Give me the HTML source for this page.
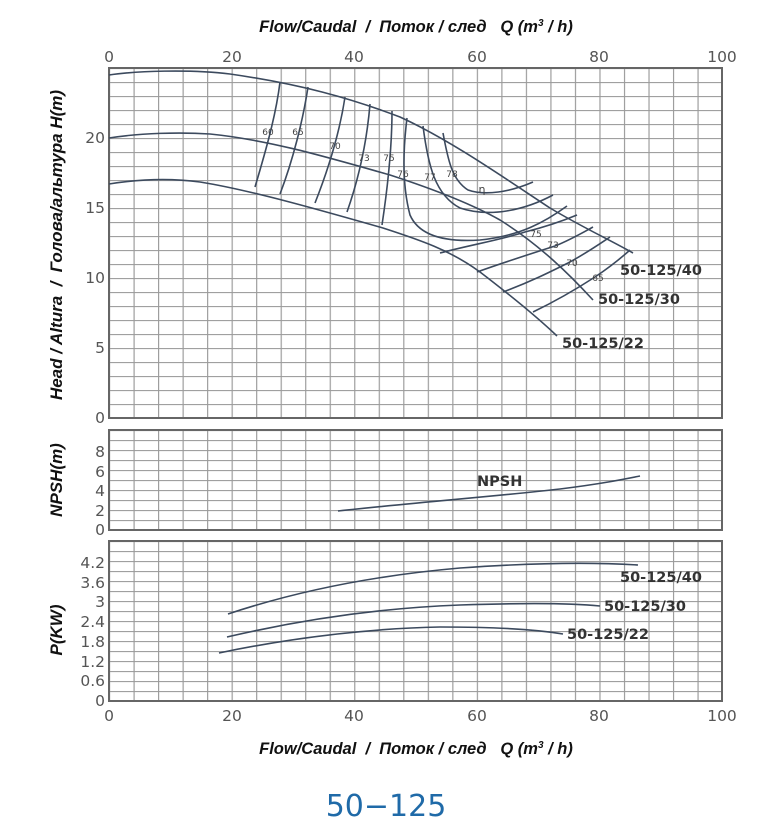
<!DOCTYPE html>
<html><head><meta charset="utf-8"><style>
html,body{margin:0;padding:0;background:#fff}
svg{display:block}
.t{font-family:"Liberation Sans",sans-serif;font-style:italic;font-weight:bold;fill:#111;white-space:pre}
.tk{font-family:"DejaVu Sans","Liberation Sans",sans-serif;font-size:15.5px;fill:#555}
.lb{font-family:"DejaVu Sans","Liberation Sans",sans-serif;font-weight:bold;font-size:14.5px;fill:#333}
.ef{font-family:"DejaVu Sans",sans-serif;font-size:9px;fill:#444}
.c{fill:none;stroke:#3c4a5e;stroke-width:1.6}
</style></head><body>
<svg width="770" height="840" viewBox="0 0 770 840" xmlns="http://www.w3.org/2000/svg">
<defs>
<pattern id="gv" x="109" y="0" width="24.52" height="840" patternUnits="userSpaceOnUse"><line x1="0.5" y1="0" x2="0.5" y2="840" stroke="#9a9a9a" stroke-width="1.3"/></pattern>
<pattern id="gh" x="0" y="68" width="770" height="14" patternUnits="userSpaceOnUse"><line x1="0" y1="0.5" x2="770" y2="0.5" stroke="#a0a0a0" stroke-width="1.2"/></pattern>
<pattern id="gh2" x="0" y="430" width="770" height="10" patternUnits="userSpaceOnUse"><line x1="0" y1="0.5" x2="770" y2="0.5" stroke="#a0a0a0" stroke-width="1.2"/></pattern>
<pattern id="gh3" x="0" y="541" width="770" height="10" patternUnits="userSpaceOnUse"><line x1="0" y1="0.5" x2="770" y2="0.5" stroke="#a0a0a0" stroke-width="1.2"/></pattern>
</defs>
<text class="t" x="416" y="32" font-size="16.5" text-anchor="middle">Flow/Caudal&#160; /&#160; Поток / след&#160;&#160; Q (m<tspan font-size="10" dy="-6">3</tspan><tspan dy="6"> / h)</tspan></text>
<g class="tk" text-anchor="middle">
<text x="109" y="62">0</text><text x="232" y="62">20</text><text x="354" y="62">40</text><text x="477" y="62">60</text><text x="599" y="62">80</text><text x="722" y="62">100</text>
<text x="109" y="721">0</text><text x="232" y="721">20</text><text x="354" y="721">40</text><text x="477" y="721">60</text><text x="599" y="721">80</text><text x="722" y="721">100</text>
</g>
<rect x="109" y="68" width="613" height="350" fill="url(#gh)"/>
<rect x="109" y="68" width="613" height="350" fill="url(#gv)"/>
<rect x="109" y="68" width="613" height="350" fill="none" stroke="#666" stroke-width="2"/>
<rect x="109" y="430" width="613" height="100" fill="url(#gh2)"/>
<rect x="109" y="430" width="613" height="100" fill="url(#gv)"/>
<rect x="109" y="430" width="613" height="100" fill="none" stroke="#666" stroke-width="2"/>
<rect x="109" y="541" width="613" height="160" fill="url(#gh3)"/>
<rect x="109" y="541" width="613" height="160" fill="url(#gv)"/>
<rect x="109" y="541" width="613" height="160" fill="none" stroke="#666" stroke-width="2"/>
<g class="tk" text-anchor="end">
<text x="105" y="143">20</text><text x="105" y="213">15</text><text x="105" y="283">10</text><text x="105" y="353">5</text><text x="105" y="423">0</text>
<text x="105" y="457">8</text><text x="105" y="477">6</text><text x="105" y="496">4</text><text x="105" y="516">2</text><text x="105" y="535">0</text>
<text x="105" y="568">4.2</text><text x="105" y="588">3.6</text><text x="105" y="607">3</text><text x="105" y="627">2.4</text><text x="105" y="647">1.8</text><text x="105" y="667">1.2</text><text x="105" y="686">0.6</text><text x="105" y="706">0</text>
</g>
<text class="t" font-size="17" transform="translate(62,245) rotate(-90)" text-anchor="middle">Head / Altura&#160; /&#160; Голова/альтура H(m)</text>
<text class="t" font-size="17" transform="translate(62,480) rotate(-90)" text-anchor="middle">NPSH(m)</text>
<text class="t" font-size="17" transform="translate(62,630) rotate(-90)" text-anchor="middle">P(KW)</text>
<path class="c" d="M109,75 C135,71 190,69 230,74 C300,84 350,98 400,117 C450,140 500,175 550,208 C580,226 610,240 633,253"/>
<path class="c" d="M109,138 C140,133 180,132 210,134 C270,140 330,158 390,175 C430,188 470,203 500,220 C540,245 570,275 593,300"/>
<path class="c" d="M109,184 C140,179 170,178 200,182 C250,190 320,210 383,228 C420,240 450,250 480,272 C510,295 535,315 557,336"/>
<path class="c" d="M255,187 C266,150 276,115 280,82"/>
<path class="c" d="M280,194 C293,160 303,120 308,87"/>
<path class="c" d="M315,203 C330,165 340,130 345,97"/>
<path class="c" d="M347,212 C360,175 367,140 370,104"/>
<path class="c" d="M382,225 C388,185 392,145 392,111"/>
<path class="c" d="M443,133 C448,160 452,180 468,190 C485,196 510,192 533,182"/>
<path class="c" d="M423,126 C428,165 435,195 460,208 C490,218 525,210 553,195"/>
<path class="c" d="M407,118 C403,150 402,185 410,215 C420,238 450,242 480,240 C520,236 545,222 567,206"/>
<path class="c" d="M440,253 C470,245 500,240 525,232 C545,227 560,222 577,215"/>
<path class="c" d="M477,272 C505,262 530,254 555,246 C570,240 582,233 593,227"/>
<path class="c" d="M503,292 C530,282 550,272 568,263 C585,254 598,245 610,237"/>
<path class="c" d="M533,312 C558,300 578,288 595,277 C610,267 621,258 630,250"/>
<g class="ef" text-anchor="middle">
<text x="268" y="135">60</text><text x="298" y="135">65</text><text x="335" y="149">70</text><text x="364" y="161">73</text><text x="389" y="161">75</text><text x="403" y="177">76</text><text x="430" y="180">77</text><text x="452" y="177">78</text><text x="482" y="193" font-size="11">η</text>
<text x="536" y="237">75</text><text x="553" y="248">73</text><text x="572" y="266">70</text><text x="598" y="281">65</text>
</g>
<text class="lb" x="620" y="275">50-125/40</text>
<text class="lb" x="598" y="304">50-125/30</text>
<text class="lb" x="562" y="348">50-125/22</text>
<path class="c" d="M338,511 C420,502 500,496 560,489 C600,484 620,480 640,476"/>
<text class="lb" x="477" y="486">NPSH</text>
<path class="c" d="M228,614 C300,590 380,575 460,568 C530,563 590,562 638,565"/>
<path class="c" d="M227,637 C300,620 380,608 460,605 C520,603 570,603 600,606"/>
<path class="c" d="M219,653 C300,636 380,628 440,627 C500,627 540,630 563,634"/>
<text class="lb" x="620" y="582">50-125/40</text>
<text class="lb" x="604" y="611">50-125/30</text>
<text class="lb" x="567" y="639">50-125/22</text>
<text class="t" x="416" y="754" font-size="16.5" text-anchor="middle">Flow/Caudal&#160; /&#160; Поток / след&#160;&#160; Q (m<tspan font-size="10" dy="-6">3</tspan><tspan dy="6"> / h)</tspan></text>
<text x="386" y="816" font-family="DejaVu Sans,Liberation Sans,sans-serif" font-size="30" fill="#1f6aa8" text-anchor="middle">50−125</text>
</svg>
</body></html>
